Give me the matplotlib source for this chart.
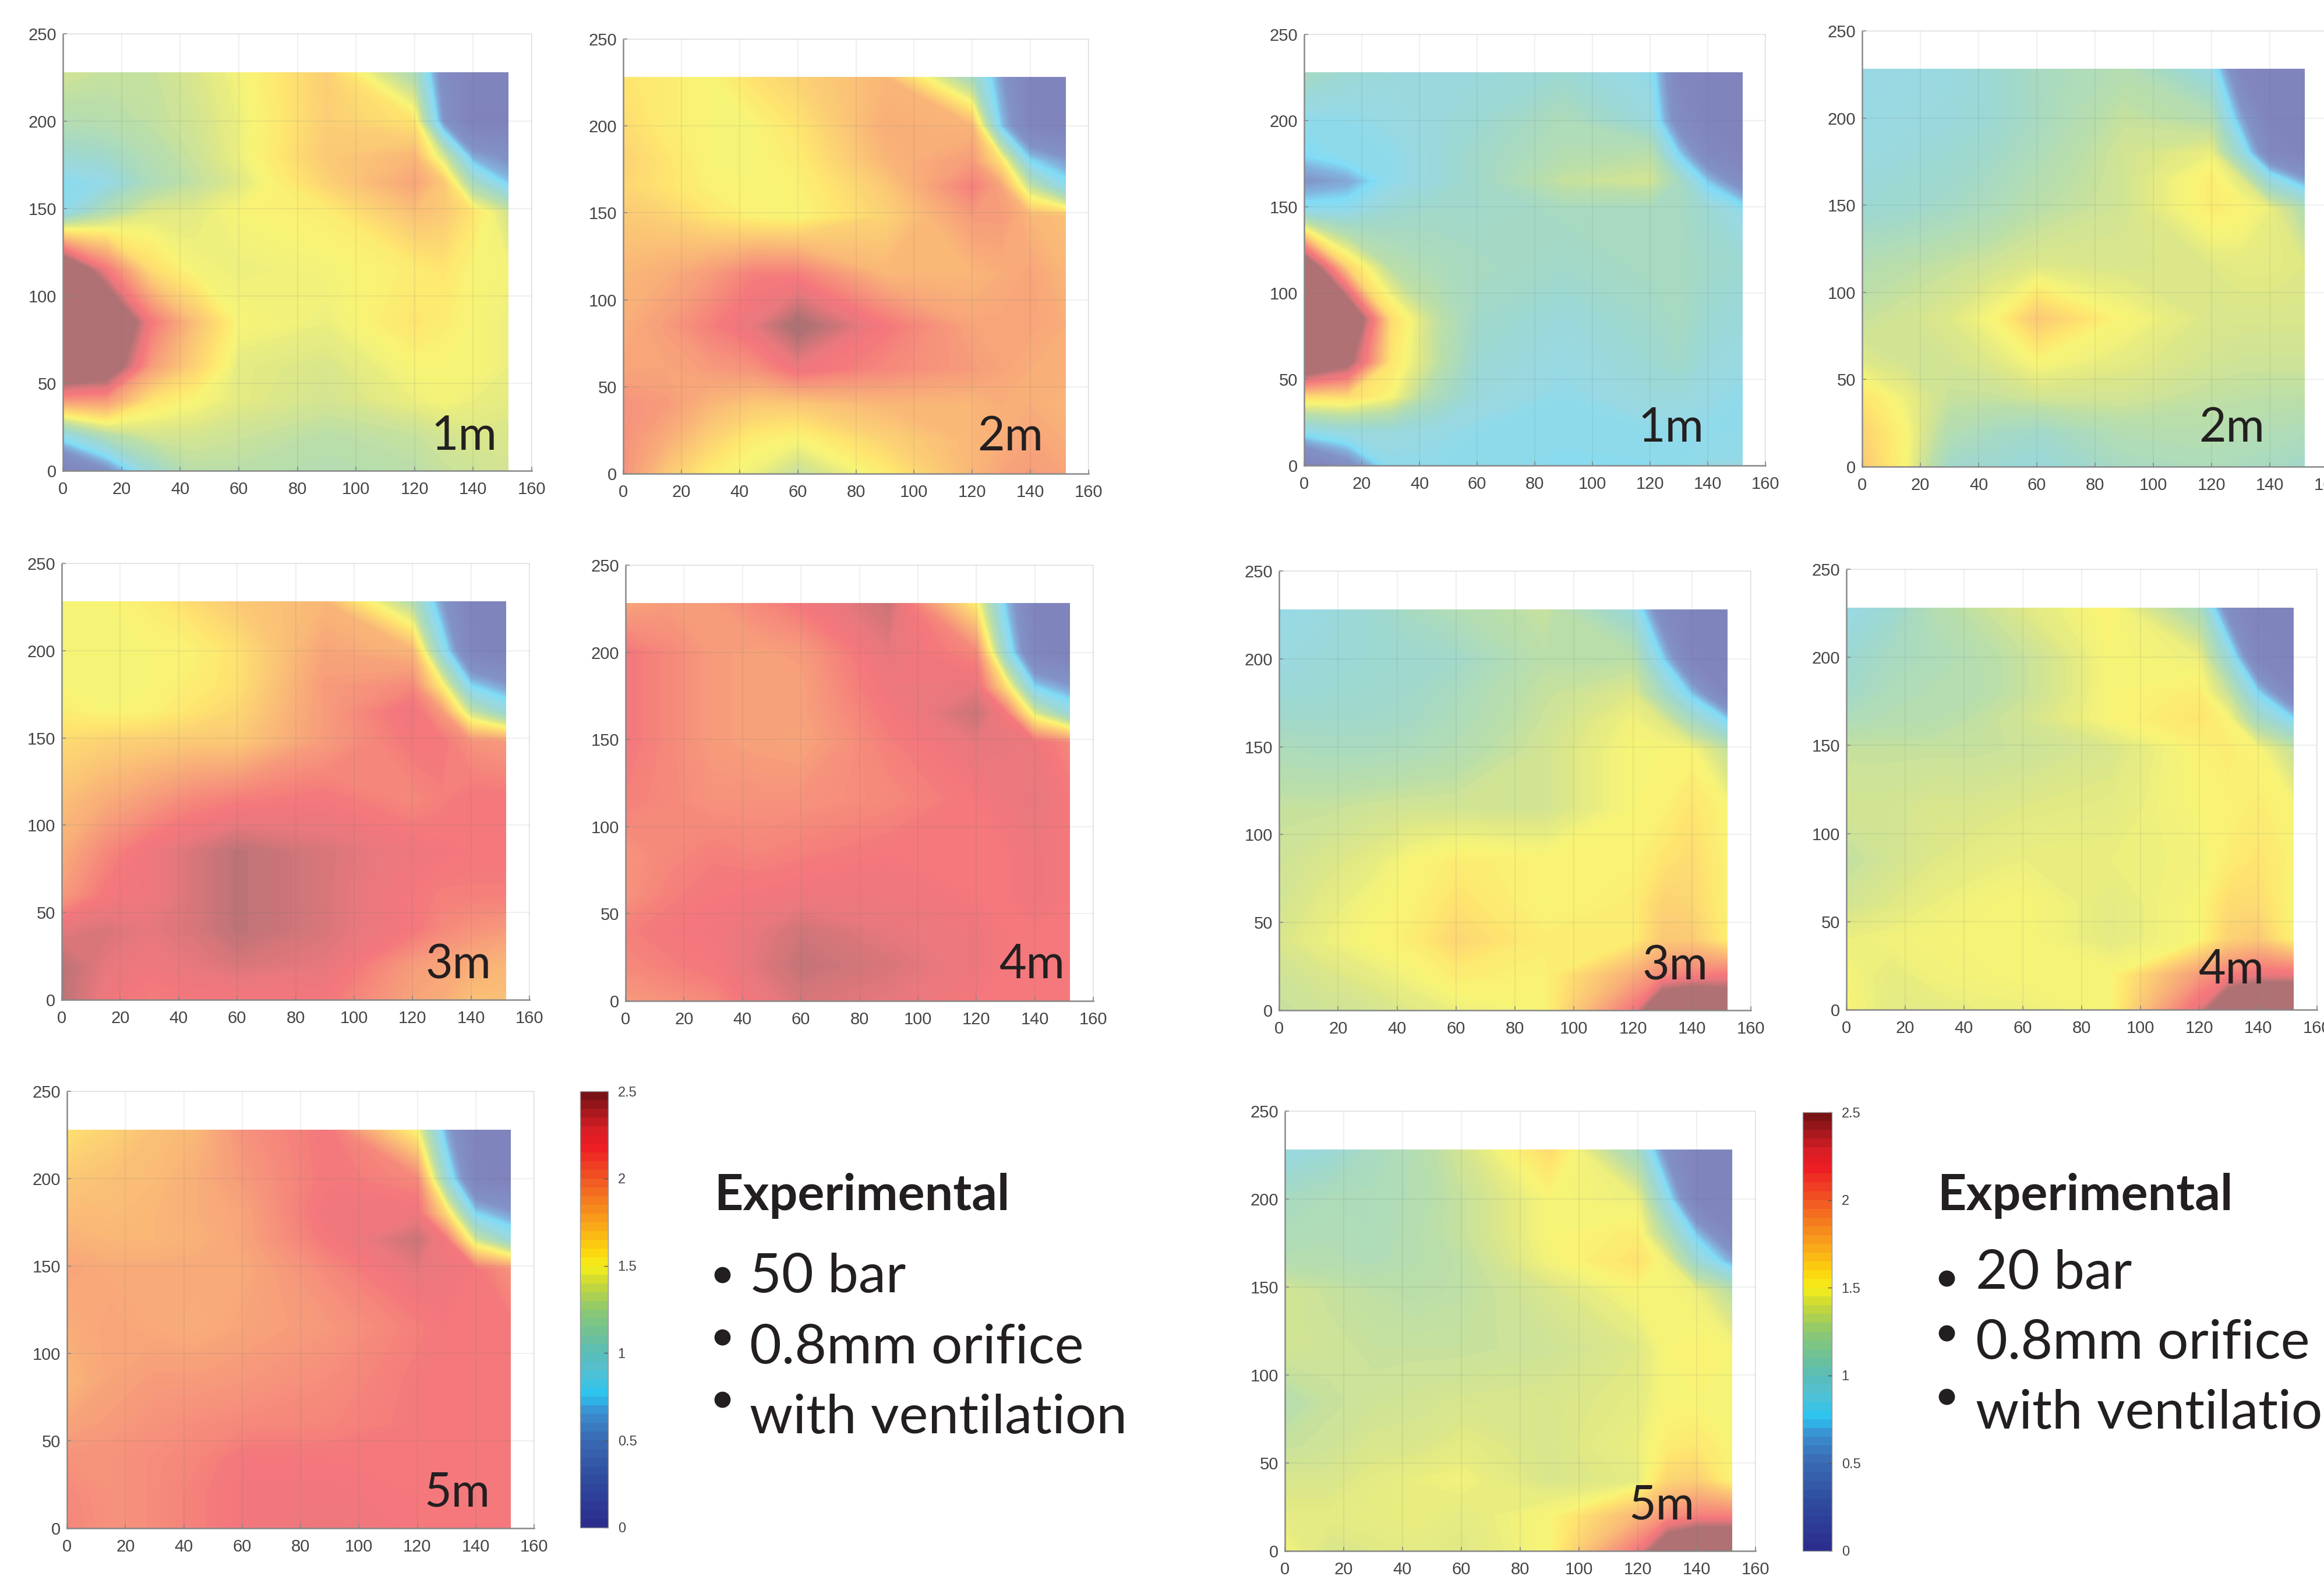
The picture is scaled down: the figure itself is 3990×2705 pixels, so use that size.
import numpy as np
import matplotlib
matplotlib.use("Agg")
import matplotlib.pyplot as plt
from matplotlib.colors import LinearSegmentedColormap, ListedColormap, Normalize
from matplotlib.cm import ScalarMappable
from matplotlib.lines import Line2D

W, H = 3990, 2705
DPI = 100

x_nodes = [0, 15, 30, 45, 60, 90, 120, 130, 140, 152]
y_nodes = [228, 200, 180, 165, 148, 115, 85, 60, 40, 20, 0]

a1 = [
 [1.35,1.30,1.30,1.38,1.48,1.72,1.15,0.35,0.10,0.10],
 [1.20,1.22,1.28,1.35,1.45,1.72,1.60,0.50,0.05,0.05],
 [1.00,1.05,1.20,1.32,1.45,1.75,1.85,1.35,0.60,0.45],
 [0.80,0.88,1.15,1.28,1.40,1.70,1.95,1.75,1.10,0.70],
 [0.85,1.20,1.40,1.42,1.50,1.55,1.80,1.75,1.60,1.35],
 [3.00,2.20,1.65,1.48,1.45,1.48,1.55,1.60,1.50,1.48],
 [3.20,3.10,2.20,1.80,1.50,1.45,1.60,1.55,1.50,1.45],
 [3.00,2.80,2.00,1.70,1.42,1.38,1.50,1.50,1.50,1.45],
 [2.00,2.00,1.60,1.50,1.42,1.35,1.45,1.48,1.45,1.42],
 [0.85,1.20,1.35,1.36,1.32,1.25,1.30,1.35,1.38,1.38],
 [0.05,0.45,1.00,1.25,1.25,1.20,1.25,1.30,1.33,1.35]]
a2 = [
 [1.60,1.55,1.50,1.62,1.70,1.85,1.10,0.55,0.10,0.10],
 [1.65,1.55,1.50,1.50,1.60,1.90,1.85,0.70,0.15,0.05],
 [1.70,1.60,1.50,1.50,1.55,1.85,2.00,1.60,0.75,0.55],
 [1.68,1.60,1.52,1.50,1.52,1.75,2.15,1.95,1.30,0.85],
 [1.75,1.70,1.60,1.52,1.50,1.70,2.00,2.00,1.85,1.80],
 [1.85,1.90,2.00,2.15,2.15,1.85,1.85,1.90,1.95,1.85],
 [1.90,2.00,2.15,2.30,2.55,2.20,1.95,1.95,1.95,1.90],
 [1.95,1.95,2.00,2.05,2.25,2.10,2.00,1.95,1.90,1.90],
 [2.05,2.00,1.85,1.75,1.75,1.85,1.85,1.90,1.90,1.85],
 [2.05,1.90,1.70,1.55,1.50,1.70,1.85,1.90,1.95,1.90],
 [2.05,1.75,1.55,1.45,1.30,1.55,1.85,1.95,2.00,1.95]]
a3 = [
 [1.50,1.50,1.55,1.65,1.75,1.85,1.20,0.55,0.10,0.10],
 [1.50,1.50,1.50,1.52,1.62,1.95,1.85,0.90,0.15,0.05],
 [1.50,1.50,1.50,1.55,1.62,2.00,2.10,1.55,0.75,0.55],
 [1.55,1.50,1.52,1.60,1.68,2.00,2.25,2.00,1.30,0.95],
 [1.65,1.70,1.72,1.75,1.75,2.00,2.20,2.20,2.05,2.00],
 [1.80,1.90,2.00,2.10,2.15,2.20,2.10,2.15,2.20,2.20],
 [1.90,2.10,2.25,2.35,2.45,2.35,2.25,2.22,2.20,2.20],
 [2.00,2.20,2.25,2.35,2.45,2.35,2.20,2.15,2.15,2.15],
 [2.30,2.35,2.30,2.35,2.45,2.35,2.20,2.10,2.05,2.00],
 [2.45,2.30,2.25,2.30,2.35,2.30,2.00,1.95,1.90,1.85],
 [2.45,2.25,2.15,2.20,2.20,2.20,1.95,1.90,1.80,1.80]]
a4 = [
 [1.95,2.00,2.00,2.10,2.20,2.40,1.55,0.70,0.10,0.10],
 [2.20,2.10,2.00,1.97,2.00,2.30,2.10,0.95,0.15,0.05],
 [2.20,2.10,2.00,1.97,1.97,2.25,2.30,1.65,0.75,0.55],
 [2.20,2.10,2.00,1.97,1.97,2.20,2.40,2.20,1.40,0.95],
 [2.20,2.10,2.00,1.97,1.95,2.15,2.30,2.30,2.25,2.10],
 [2.15,2.10,2.05,2.05,2.05,2.10,2.20,2.25,2.30,2.20],
 [2.05,2.10,2.15,2.12,2.15,2.20,2.20,2.20,2.25,2.20],
 [2.05,2.15,2.20,2.22,2.25,2.25,2.20,2.20,2.25,2.20],
 [2.15,2.20,2.22,2.30,2.38,2.30,2.25,2.20,2.20,2.20],
 [2.10,2.15,2.20,2.32,2.42,2.35,2.25,2.20,2.20,2.20],
 [2.00,2.05,2.10,2.25,2.35,2.30,2.20,2.20,2.20,2.20]]
a5 = [
 [1.62,1.70,1.80,1.85,2.05,2.20,1.50,0.60,0.10,0.10],
 [1.75,1.80,1.82,1.90,2.00,2.20,2.10,0.95,0.15,0.05],
 [1.82,1.82,1.85,1.90,1.95,2.25,2.25,1.65,0.75,0.55],
 [1.88,1.85,1.85,1.88,1.95,2.20,2.40,2.20,1.35,0.95],
 [1.95,1.92,1.92,1.92,1.92,2.10,2.30,2.25,2.20,2.05],
 [1.90,1.95,1.92,1.90,1.95,2.02,2.15,2.20,2.20,2.20],
 [1.85,1.95,2.00,2.00,2.02,2.08,2.18,2.20,2.20,2.20],
 [1.95,2.00,2.05,2.08,2.10,2.12,2.18,2.20,2.20,2.20],
 [2.05,2.05,2.08,2.12,2.20,2.20,2.20,2.20,2.20,2.20],
 [2.10,2.05,2.08,2.15,2.22,2.22,2.20,2.20,2.20,2.20],
 [2.12,2.05,2.08,2.15,2.22,2.25,2.20,2.20,2.20,2.20]]
b1 = [
 [1.10,1.00,0.95,0.95,0.95,1.00,0.85,0.20,0.10,0.10],
 [0.85,0.85,0.90,0.95,1.00,1.15,0.95,0.35,0.10,0.10],
 [0.75,0.85,0.85,0.95,1.05,1.20,1.25,0.75,0.30,0.10],
 [0.50,0.60,0.85,0.95,1.05,1.30,1.35,1.10,0.70,0.35],
 [0.85,0.85,1.00,1.05,1.05,1.10,1.10,1.10,1.00,0.85],
 [2.90,1.70,1.25,1.15,1.10,1.05,1.10,1.10,1.05,1.00],
 [3.20,3.00,1.65,1.30,1.05,0.95,1.05,1.10,1.00,0.95],
 [3.00,2.60,1.60,1.30,1.00,0.90,1.00,1.05,0.95,0.90],
 [1.65,1.65,1.50,1.15,0.95,0.85,0.95,0.95,0.90,0.85],
 [0.85,0.95,0.95,0.90,0.85,0.85,0.85,0.85,0.85,0.85],
 [0.05,0.40,0.85,0.85,0.85,0.80,0.82,0.85,0.88,0.88]]
b2 = [
 [0.90,0.90,0.92,1.00,1.10,1.20,0.90,0.20,0.10,0.10],
 [0.90,0.92,0.95,1.00,1.10,1.30,1.20,0.60,0.10,0.10],
 [0.92,0.95,1.00,1.05,1.15,1.35,1.45,0.95,0.25,0.10],
 [0.95,1.00,1.02,1.10,1.20,1.35,1.55,1.40,0.90,0.55],
 [1.00,1.02,1.08,1.15,1.25,1.35,1.55,1.52,1.45,1.20],
 [1.20,1.25,1.30,1.35,1.40,1.38,1.40,1.42,1.42,1.40],
 [1.30,1.35,1.40,1.50,1.75,1.50,1.38,1.38,1.38,1.38],
 [1.40,1.35,1.35,1.40,1.50,1.42,1.35,1.33,1.33,1.33],
 [1.60,1.45,1.30,1.30,1.35,1.35,1.28,1.27,1.26,1.26],
 [1.70,1.50,1.20,1.10,1.05,1.20,1.22,1.20,1.18,1.15],
 [1.75,1.50,1.05,1.00,0.95,1.10,1.15,1.12,1.10,1.05]]
b3 = [
 [0.88,0.92,1.00,1.10,1.18,1.30,0.95,0.30,0.10,0.10],
 [0.92,0.97,1.00,1.02,1.05,1.25,1.25,0.75,0.12,0.10],
 [0.98,1.00,1.02,1.05,1.12,1.30,1.40,1.10,0.70,0.15],
 [1.05,1.05,1.05,1.08,1.15,1.32,1.47,1.40,1.10,0.75],
 [1.15,1.12,1.12,1.15,1.20,1.35,1.50,1.50,1.50,1.30],
 [1.30,1.30,1.33,1.35,1.35,1.35,1.50,1.52,1.60,1.50],
 [1.33,1.38,1.42,1.50,1.55,1.52,1.52,1.60,1.65,1.52],
 [1.35,1.42,1.48,1.52,1.62,1.50,1.55,1.70,1.68,1.52],
 [1.38,1.45,1.50,1.55,1.68,1.55,1.55,1.75,1.75,1.55],
 [1.33,1.38,1.42,1.48,1.55,1.52,1.90,2.10,2.15,2.20],
 [1.30,1.33,1.35,1.40,1.45,1.50,2.20,3.00,3.20,3.00]]
b4 = [
 [0.88,1.00,1.20,1.30,1.40,1.52,1.15,0.35,0.10,0.10],
 [1.00,1.10,1.15,1.22,1.30,1.50,1.45,0.95,0.15,0.10],
 [1.05,1.15,1.20,1.22,1.30,1.50,1.55,1.30,0.75,0.20],
 [1.15,1.20,1.22,1.28,1.35,1.50,1.60,1.50,1.10,0.75],
 [1.30,1.30,1.30,1.30,1.32,1.38,1.52,1.55,1.50,1.30],
 [1.35,1.35,1.38,1.38,1.40,1.42,1.50,1.52,1.55,1.50],
 [1.28,1.35,1.40,1.43,1.45,1.45,1.47,1.55,1.60,1.52],
 [1.35,1.40,1.45,1.48,1.50,1.42,1.50,1.65,1.65,1.50],
 [1.45,1.47,1.48,1.50,1.50,1.42,1.50,1.70,1.75,1.52],
 [1.48,1.43,1.47,1.48,1.50,1.50,2.00,2.15,2.25,2.25],
 [1.50,1.42,1.42,1.45,1.45,1.50,2.30,3.00,3.30,3.30]]
b5 = [
 [0.90,0.98,1.10,1.20,1.35,1.65,1.10,0.40,0.10,0.10],
 [1.10,1.15,1.15,1.20,1.30,1.50,1.45,0.85,0.12,0.10],
 [1.15,1.18,1.15,1.22,1.30,1.50,1.55,1.20,0.70,0.20],
 [1.20,1.20,1.17,1.22,1.27,1.48,1.62,1.45,1.00,0.60],
 [1.35,1.30,1.27,1.25,1.27,1.38,1.50,1.50,1.45,1.25],
 [1.35,1.33,1.30,1.30,1.30,1.33,1.40,1.50,1.52,1.50],
 [1.22,1.30,1.33,1.35,1.37,1.38,1.42,1.50,1.50,1.50],
 [1.30,1.33,1.38,1.38,1.42,1.38,1.45,1.55,1.58,1.50],
 [1.38,1.38,1.42,1.45,1.47,1.38,1.42,1.68,1.72,1.52],
 [1.42,1.42,1.43,1.45,1.42,1.50,1.85,2.05,2.15,2.15],
 [1.48,1.38,1.40,1.42,1.40,1.50,2.20,2.90,3.20,3.20]]

x_ticks = [0, 20, 40, 60, 80, 100, 120, 140, 160]
y_ticks = [0, 50, 100, 150, 200, 250]
cbar_ticks = [0, 0.5, 1, 1.5, 2, 2.5]
left_lines = ["50 bar", "0.8mm orifice", "with ventilation"]
right_lines = ["20 bar", "0.8mm orifice", "with ventilation"]
heading = "Experimental"

# pixel boxes: x=0, x=160, y=250, y=0; then label position
panels = [
 (a1, "1m", (108, 913, 58, 808), (740, 772)),
 (a2, "2m", (1070, 1869, 67, 813), (1678, 773)),
 (a3, "3m", (106, 909, 967, 1716), (731, 1679)),
 (a4, "4m", (1074, 1877, 970, 1718), (1715, 1679)),
 (a5, "5m", (115, 917, 1873, 2623), (728, 2586)),
 (b1, "1m", (2239, 3031, 59, 799), (2812, 758)),
 (b2, "2m", (3197, 3997, 53, 801), (3775, 758)),
 (b3, "3m", (2196, 3006, 980, 1734), (2820, 1682)),
 (b4, "4m", (3170, 3978, 977, 1733), (3774, 1688)),
 (b5, "5m", (2206, 3014, 1907, 2662), (2796, 2608)),
]

stops = [(0.0, "#2b2e8c"), (0.25, "#2d3a96"), (0.5, "#2e4aa0"), (0.65, "#2f80c8"),
         (0.75, "#2bc4f0"), (0.9, "#55c0d0"), (1.0, "#5abdb5"), (1.25, "#8cc870"),
         (1.4, "#c8d838"), (1.5, "#f5ee1a"), (1.6, "#fdd30f"), (1.75, "#f9a51a"),
         (2.0, "#f15a22"), (2.2, "#ed1c24"), (2.3, "#d81e26"), (2.5, "#7a1315")]
stop_list = [(v / 2.5, c) for v, c in stops]
cmap_base = LinearSegmentedColormap.from_list("jetish", stop_list, N=256)
rgb = cmap_base(np.linspace(0, 1, 256))[:, :3]
cmap_fine = ListedColormap(0.6 * rgb + 0.4)          # washed-out fill, as printed
bar_stops = [(0.0, "#2b2e8c"), (0.25, "#2f4a9e"), (0.5, "#3a6cb4"), (0.65, "#3a8fd0"),
             (0.75, "#2bc4f0"), (0.9, "#55c0d0")] + stops[6:]
cmap_bar = LinearSegmentedColormap.from_list("jetbar", [(v / 2.5, c) for v, c in bar_stops], N=50)
norm = Normalize(0, 2.5)
levels = np.arange(0, 2.5001, 0.0125)

fig = plt.figure(figsize=(W / DPI, H / DPI), dpi=DPI, facecolor="white")


def box(x0, x1, ytop, ybot):
    return [x0 / W, 1 - ybot / H, (x1 - x0) / W, (ybot - ytop) / H]


def ptext(x, y, s, **kw):
    fig.text(x / W, 1 - y / H, s, va="baseline", ha="left", **kw)


TICK = "#454545"
for grid, name, (x0, x1, yt, yb), (lx, ly) in panels:
    ax = fig.add_axes(box(x0, x1, yt, yb))
    z = np.array(grid)[::-1]
    yy = np.array(y_nodes)[::-1]
    ax.contourf(x_nodes, yy, z, levels=levels, cmap=cmap_fine, norm=norm,
                extend="both", antialiased=False)
    ax.set_xlim(0, 160)
    ax.set_ylim(0, 250)
    ax.set_xticks(x_ticks)
    ax.set_yticks(y_ticks)
    ax.set_axisbelow(False)
    ax.grid(True, color="#5f7a7a", alpha=0.10, lw=1.6)
    for s in ("top", "right"):
        ax.spines[s].set_color("#ececec")
        ax.spines[s].set_linewidth(1.4)
    for s in ("left", "bottom"):
        ax.spines[s].set_color("#8a8a8a")
        ax.spines[s].set_linewidth(1.8)
    ax.tick_params(axis="x", direction="in", length=5, width=1.2, color="#888888",
                   labelsize=21, labelcolor=TICK, pad=13)
    ax.tick_params(axis="y", direction="in", length=5, width=1.2, color="#888888",
                   labelsize=21, labelcolor=TICK, pad=8)
    for t in ax.get_xticklabels() + ax.get_yticklabels():
        t.set_fontfamily("Liberation Sans")
    ptext(lx, ly, name, fontsize=58, color="#231f20", family="Lato")

for (x0, x1, yt, yb) in [(996, 1044, 1873, 2622), (3095, 3145, 1909, 2662)]:
    cax = fig.add_axes(box(x0, x1, yt, yb))
    cb = fig.colorbar(ScalarMappable(norm=norm, cmap=cmap_bar), cax=cax)
    cb.set_ticks(cbar_ticks)
    cb.set_ticklabels([f"{v:g}" for v in cbar_ticks])
    cb.outline.set_edgecolor("#9a9a9a")
    cb.outline.set_linewidth(1.0)
    cax.tick_params(direction="in", length=5, width=1.0, color="#555555",
                    labelsize=17, labelcolor=TICK, pad=12)
    for t in cax.get_yticklabels():
        t.set_fontfamily("Liberation Sans")

INK = "#231f20"
ptext(1226, 2077, heading, fontsize=62, fontweight="bold", color=INK, family="Lato")
ptext(3326, 2077, heading, fontsize=62, fontweight="bold", color=INK, family="Lato")

for s, by, bully in zip(left_lines, (2218, 2340, 2460), (2188, 2295, 2402)):
    ptext(1287, by, s, fontsize=68, color=INK, family="Lato")
    fig.add_artist(Line2D([1240 / W], [1 - bully / H], marker="o", ms=20, color=INK,
                          mew=0, transform=fig.transFigure))
for s, by, bully in zip(right_lines, (2212, 2332, 2452), (2194, 2288, 2397)):
    ptext(3392, by, s, fontsize=68, color=INK, family="Lato")
    fig.add_artist(Line2D([3342 / W], [1 - bully / H], marker="o", ms=20, color=INK,
                          mew=0, transform=fig.transFigure))

fig.savefig("out.png", dpi=DPI, facecolor="white")
